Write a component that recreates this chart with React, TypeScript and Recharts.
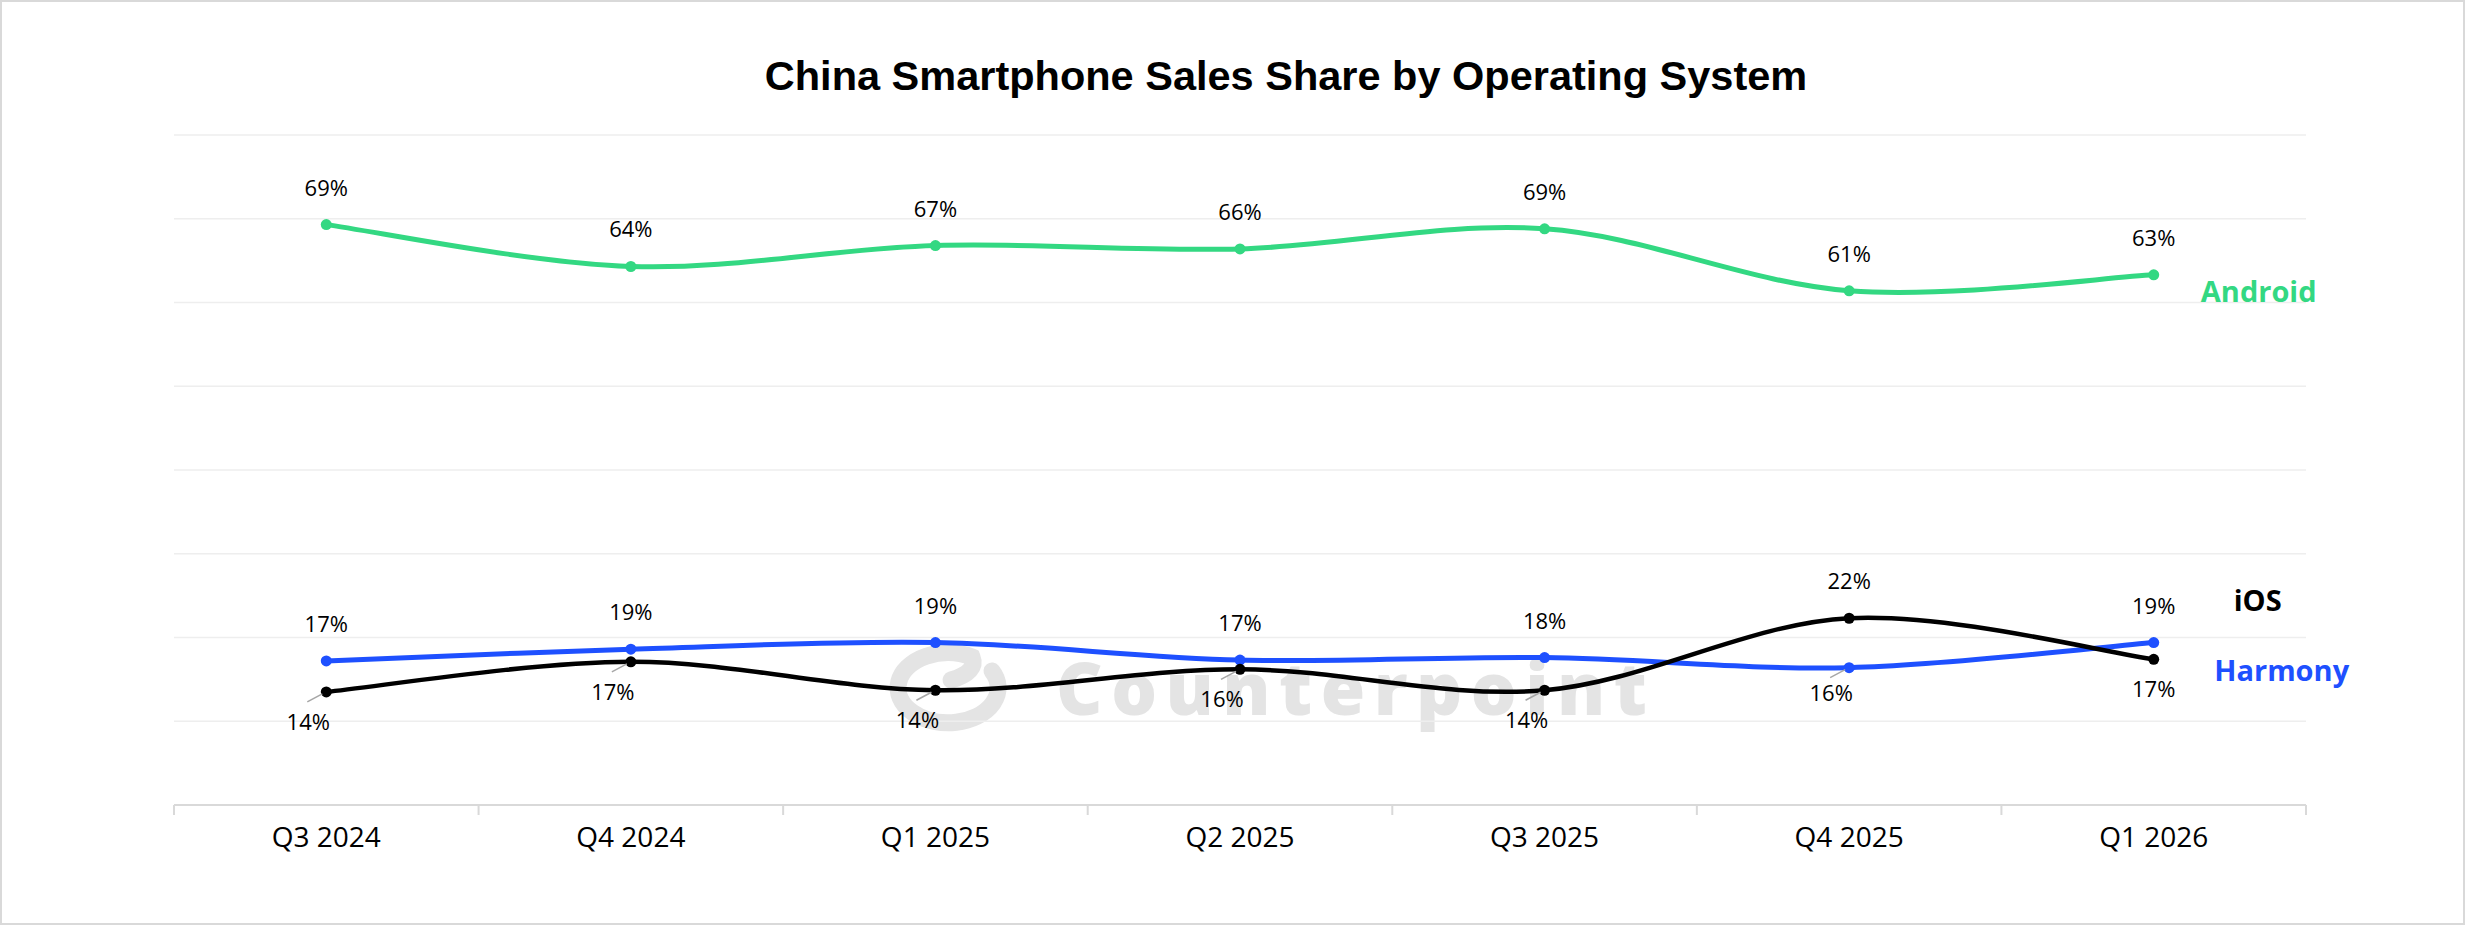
import { LineChart, Line, XAxis, YAxis, CartesianGrid, LabelList } from 'recharts'

const quarters = ['Q3 2024', 'Q4 2024', 'Q1 2025', 'Q2 2025', 'Q3 2025', 'Q4 2025', 'Q1 2026']
const android = [69.3, 64.3, 66.8, 66.4, 68.8, 61.4, 63.3]
const harmony = [17.2, 18.6, 19.4, 17.3, 17.6, 16.4, 19.4]
const ios = [13.5, 17.1, 13.7, 16.2, 13.7, 22.3, 17.4]
const yTicks = [0, 10, 20, 30, 40, 50, 60, 70, 80]

const W = 2465
const H = 925
const M = { top: 135, right: 159, left: 174, bottom: 60 }
const BAND = (W - M.left - M.right) / quarters.length

const GREEN = '#33d882'
const BLUE = '#1e50ff'
const BLACK = '#000000'
const FONT = '"Open Sans", "Noto Sans", sans-serif'

const chartData = quarters.map((q, i) => ({ q, android: android[i], harmony: harmony[i], ios: ios[i] }))

// series config: colour + where the name sits next to the last point
const series = {
  android: { name: 'Android', color: GREEN, dx: 105, dy: 27, values: android },
  ios: { name: 'iOS', color: BLACK, dx: 104, dy: -48, values: ios },
  harmony: { name: 'Harmony', color: BLUE, dx: 128, dy: 38, values: harmony },
}
type Key = keyof typeof series

// Excel-style smoothed line (Catmull-Rom through the points)
function excelCurve(context: any) {
  let pts: [number, number][] = []
  return {
    areaStart() {},
    areaEnd() {},
    lineStart() { pts = [] },
    point(x: number, y: number) { pts.push([+x, +y]) },
    lineEnd() {
      if (!pts.length) return
      context.moveTo(pts[0][0], pts[0][1])
      for (let i = 0; i < pts.length - 1; i++) {
        const p0 = pts[i - 1] || pts[i]
        const p1 = pts[i]
        const p2 = pts[i + 1]
        const p3 = pts[i + 2] || p2
        context.bezierCurveTo(
          p1[0] + (p2[0] - p0[0]) / 6, p1[1] + (p2[1] - p0[1]) / 6,
          p2[0] - (p3[0] - p1[0]) / 6, p2[1] - (p3[1] - p1[1]) / 6,
          p2[0], p2[1],
        )
      }
    },
  }
}

function QuarterTick(props: any) {
  const { x, y, payload, index } = props
  const last = index === quarters.length - 1
  return (
    <g>
      <line x1={x - BAND / 2} y1={y} x2={x - BAND / 2} y2={y + 10} stroke="#d9d9d9" strokeWidth={2} />
      {last && <line x1={x + BAND / 2} y1={y} x2={x + BAND / 2} y2={y + 10} stroke="#d9d9d9" strokeWidth={2} />}
      <text x={x} y={y + 42} textAnchor="middle" fontFamily={FONT} fontSize={28} fill="#000">{payload.value}</text>
    </g>
  )
}

function labelFor(key: Key) {
  return (props: any) => {
    const index: number = props.index
    const x: number = props.x ?? props.viewBox?.x
    const y: number = props.y ?? props.viewBox?.y
    if (x == null || y == null) return null
    const cfg = series[key]
    const v = cfg.values[index]
    const last = index === quarters.length - 1
    let below = false
    if (key === 'ios') below = ios[index] < harmony[index]
    if (key === 'harmony') below = harmony[index] < ios[index]
    const dx = below && !last ? -18 : 0
    const dy = below ? (key === 'ios' ? 38 : 33) : -29
    return (
      <g>
        {below && dx !== 0 && (
          <line x1={x - 4} y1={y + 2} x2={x - 19} y2={y + 10} stroke="#a6a6a6" strokeWidth={1.5} />
        )}
        <text x={x + dx} y={y + dy} textAnchor="middle" fontFamily={FONT} fontSize={22} fill="#000">
          {Math.round(v)}%
        </text>
        {last && (
          <text x={x + cfg.dx} y={y + cfg.dy} textAnchor="middle" fontFamily={FONT} fontWeight={700} fontSize={29} fill={cfg.color}>
            {cfg.name}
          </text>
        )}
      </g>
    )
  }
}

export default function App() {
  return (
    <div style={{ position: 'absolute', left: 0, top: 0, width: W, height: H, background: '#fff' }}>
      <svg width={W} height={H} style={{ position: 'absolute', left: 0, top: 0 }}>
        <rect x={1} y={1} width={W - 2} height={H - 2} fill="#fff" stroke="#d9d9d9" strokeWidth={2} />
        <text x={1286} y={90} textAnchor="middle" fontFamily='"Liberation Sans", Arial, sans-serif' fontWeight="bold" fontSize={41.5} fill="#000">
          China Smartphone Sales Share by Operating System
        </text>
        {/* watermark */}
        <path
          d="M 992 671 A 50 35 0 1 1 972 657 Q 978 672 951 680"
          fill="none" stroke="#e4e4e4" strokeWidth={17} strokeLinecap="round"
        />
        <text x={1056} y={715} fontFamily={FONT} fontWeight={800} fontSize={72} letterSpacing={8.5} fill="#e4e4e4">
          Counterpoint
        </text>
      </svg>
      <div style={{ position: 'absolute', left: 0, top: 0 }}>
        <LineChart width={W} height={H} data={chartData} margin={M}>
          <CartesianGrid vertical={false} stroke="#eeeeee" strokeWidth={1.5} />
          <XAxis
            dataKey="q"
            height={60}
            padding={{ left: BAND / 2, right: BAND / 2 }}
            tickSize={0}
            tickMargin={0}
            tickLine={false}
            axisLine={{ stroke: '#d9d9d9', strokeWidth: 2 }}
            tick={<QuarterTick />}
            interval={0}
          />
          <YAxis hide domain={[0, 80]} ticks={yTicks} />
          <Line
            dataKey="android" type={excelCurve as any} stroke={GREEN} strokeWidth={5}
            dot={{ r: 5.5, fill: GREEN, stroke: GREEN, strokeWidth: 0 }} activeDot={false}
            isAnimationActive={false}
          >
            <LabelList dataKey="android" content={labelFor('android')} />
          </Line>
          <Line
            dataKey="harmony" type={excelCurve as any} stroke={BLUE} strokeWidth={5}
            dot={{ r: 5.5, fill: BLUE, stroke: BLUE, strokeWidth: 0 }} activeDot={false}
            isAnimationActive={false}
          >
            <LabelList dataKey="harmony" content={labelFor('harmony')} />
          </Line>
          <Line
            dataKey="ios" type={excelCurve as any} stroke={BLACK} strokeWidth={4.5}
            dot={{ r: 5.5, fill: BLACK, stroke: BLACK, strokeWidth: 0 }} activeDot={false}
            isAnimationActive={false}
          >
            <LabelList dataKey="ios" content={labelFor('ios')} />
          </Line>
        </LineChart>
      </div>
    </div>
  )
}
